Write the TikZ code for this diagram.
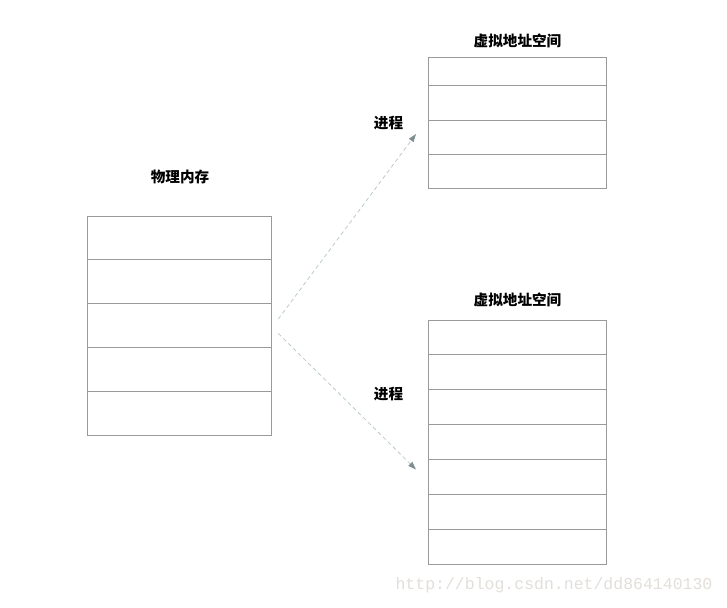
\documentclass[tikz,border=0pt]{standalone}
\usepackage{fontspec}
\newfontfamily\cjk{Noto Sans CJK SC}
\setmonofont{Liberation Mono}
\usetikzlibrary{arrows.meta}
\definecolor{boxline}{HTML}{9A9A9A}
\definecolor{dashline}{HTML}{BCCACA}
\definecolor{tipcol}{HTML}{7E8E8E}
\definecolor{wm}{HTML}{E2DEDA}
\begin{document}
\begin{tikzpicture}[x=1pt,y=-1pt,
  cell/.style={draw=boxline,line width=0.9pt},
  lbl/.style={font=\cjk\bfseries\fontsize{14.6}{14.6}\selectfont,inner sep=0pt},
  link/.style={dashline,line width=0.8pt,dash pattern=on 4pt off 3pt,
    -{Triangle[length=8pt,width=5.5pt,fill=tipcol,color=tipcol]}}]
\useasboundingbox (0,0) rectangle (727,607);
% physical memory
\foreach \i in {0,...,4}{
  \draw[cell] (87,{216+\i*43.8}) rectangle (271,{216+(\i+1)*43.8});
}
\node[lbl] (phys) at (180,176.5) {物理内存};
% top virtual
\draw[cell] (428.3,57.3) rectangle (606,85.7);
\draw[cell] (428.3,85.7) rectangle (606,120);
\draw[cell] (428.3,120) rectangle (606,154.3);
\draw[cell] (428.3,154.3) rectangle (606,188.3);
\node[lbl] (v1) at (517.5,40.5) {虚拟地址空间};
% bottom virtual
\foreach \i in {0,...,6}{
  \draw[cell] (428.3,{320+\i*34.9}) rectangle (606,{320+(\i+1)*34.9});
}
\node[lbl] (v2) at (517.5,299.5) {虚拟地址空间};
% arrows
\coordinate (s1) at (278.3,319);
\coordinate (e1) at (416,134);
\coordinate (s2) at (278.3,333.5);
\coordinate (e2) at (416,469.5);
\draw[link] (s1) -- (e1);
\draw[link] (s2) -- (e2);
\node[lbl] (p1) at (388.5,123) {进程};
\node[lbl] (p2) at (388.5,394) {进程};
% watermark
\node[font=\ttfamily\fontsize{16.5}{16.5}\selectfont,text=wm,inner sep=0pt] (wmk) at (554,585) {http://blog.csdn.net/dd864140130};
\end{tikzpicture}
\end{document}
